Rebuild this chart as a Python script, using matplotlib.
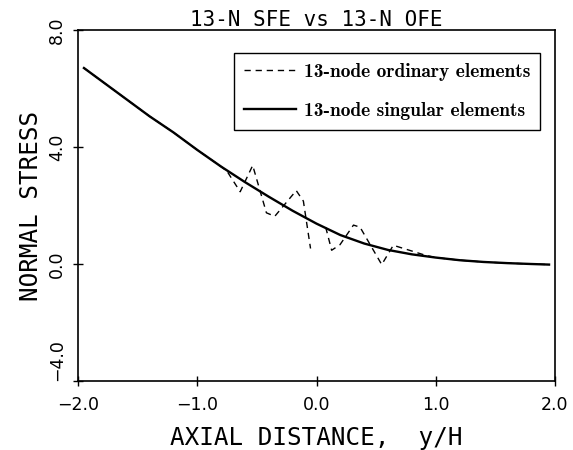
import numpy as np
import matplotlib
matplotlib.use("Agg")
import matplotlib.pyplot as plt

# ---- data ----
x_singular = [-1.95, -1.8, -1.6, -1.4, -1.2, -1.0, -0.8, -0.6, -0.4, -0.2, 0.0,
              0.2, 0.4, 0.6, 0.8, 1.0, 1.2, 1.4, 1.6, 1.8, 1.95]
y_singular = [6.7, 6.25, 5.65, 5.05, 4.5, 3.9, 3.33, 2.8, 2.3, 1.82, 1.38,
              0.99, 0.7, 0.48, 0.33, 0.22, 0.13, 0.07, 0.03, 0.0, -0.02]

x_ordinary = [-1.95, -1.8, -1.6, -1.4, -1.2, -1.0, -0.8, -0.75, -0.64, -0.535,
              -0.42, -0.35, -0.17, -0.11, -0.05, np.nan, 0.077, 0.127, 0.197,
              0.31, 0.365, 0.547, 0.644, 0.81, 0.92, 1.0, 1.2, 1.4, 1.6, 1.8, 1.95]
y_ordinary = [6.7, 6.25, 5.65, 5.05, 4.5, 3.9, 3.33, 3.17, 2.47, 3.37,
              1.75, 1.63, 2.51, 2.15, 0.53, np.nan, 1.26, 0.47, 0.66,
              1.33, 1.26, -0.02, 0.64, 0.43, 0.29, 0.22, 0.13, 0.07, 0.03, 0.0, -0.02]

x_ticks = [-2.0, -1.0, 0.0, 1.0, 2.0]
y_ticks = [-4.0, 0.0, 4.0, 8.0]

title = "13-N SFE vs 13-N OFE"
xlabel = "AXIAL DISTANCE,  y/H"
ylabel = "NORMAL STRESS"
label_ord = "13-node ordinary elements"
label_sing = "13-node singular elements"

mono = ["DejaVu Sans Mono", "DejaVu Sans"]
sans = ["DejaVu Sans"]
legfont = ["cmb10", "DejaVu Serif"]

fig = plt.figure(figsize=(5.73, 4.5), dpi=100)
ax = fig.add_axes([78/573, 69/450, 477/573, 351/450])

l1, = ax.plot(x_ordinary, y_ordinary, color="black", lw=1.0, linestyle=(0, (4.5, 3.5)),
              label=label_ord)
l2, = ax.plot(x_singular, y_singular, color="black", lw=1.7, label=label_sing)

ax.set_xlim(-2.0, 2.0)
ax.set_ylim(-4.0, 8.0)
ax.set_xticks(x_ticks)
ax.set_yticks(y_ticks)
ax.set_xticklabels([f"{v:.1f}".replace("-", "\u2212") for v in x_ticks],
                   family=sans, fontsize=12.5)
ax.set_yticklabels([f"{v:.1f}".replace("-", "\u2212") for v in y_ticks],
                   family=sans, fontsize=12.5, rotation=90, va="center")
ax.get_yticklabels()[0].set_va("bottom")
ax.tick_params(direction="inout", length=7, width=1.0)
ax.tick_params(axis="x", pad=7)
ax.tick_params(axis="y", pad=5)
for s in ax.spines.values():
    s.set_linewidth(1.2)

ax.set_xlabel(xlabel, family=mono, fontsize=17.5, labelpad=9)
ax.set_ylabel(ylabel, family=mono, fontsize=17.5, labelpad=4)
ax.set_title(title, family=mono, fontsize=15, pad=2)

leg = ax.legend(handles=[l1, l2], loc="upper right", bbox_to_anchor=(0.969, 0.935),
                borderaxespad=0, fancybox=False, edgecolor="black", framealpha=1,
                prop={"family": legfont, "size": 14}, handlelength=2.7,
                handletextpad=0.4, labelspacing=1.1, borderpad=0.5)
leg.get_frame().set_linewidth(1.0)

fig.savefig("out.png", dpi=100)
